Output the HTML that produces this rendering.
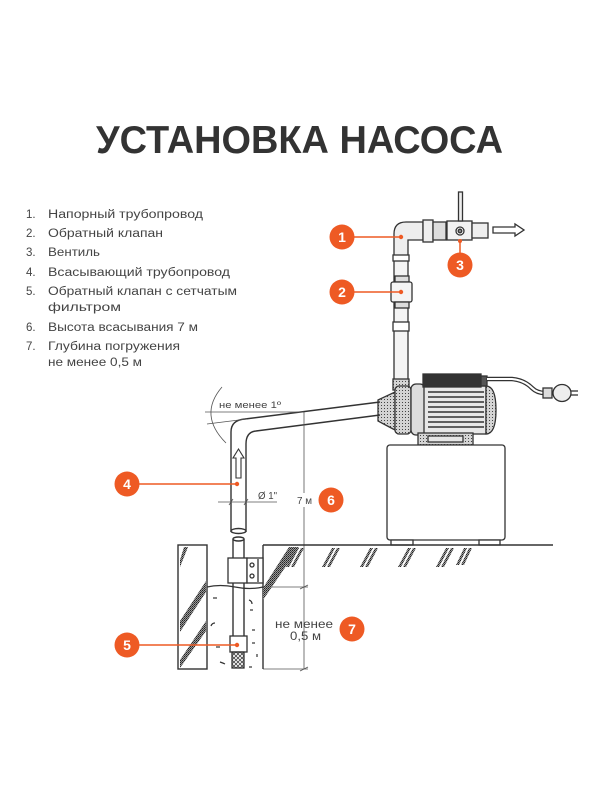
<!DOCTYPE html>
<html><head><meta charset="utf-8"><style>
html,body{margin:0;padding:0;background:#fff;}
svg{display:block;}
</style></head><body>
<svg width="600" height="800" viewBox="0 0 600 800" xmlns="http://www.w3.org/2000/svg">
<defs>
<pattern id="dots" width="2" height="2" patternUnits="userSpaceOnUse">
<rect width="2" height="2" fill="#999"/>
<rect width="1" height="1" fill="#222"/>
<rect x="1" y="1" width="1" height="1" fill="#444"/>
</pattern>
<pattern id="dots2" width="3" height="3" patternUnits="userSpaceOnUse">
<rect width="3" height="3" fill="#d4d4d4"/>
<rect width="1" height="1" fill="#444"/>
</pattern>
<pattern id="xh" width="4" height="4" patternUnits="userSpaceOnUse">
<path d="M0,0 L4,4 M4,0 L0,4" stroke="#444" stroke-width="0.8"/>
</pattern>
</defs>
<rect width="600" height="800" fill="#fff"/>

<text x="96" y="153" font-family="Liberation Sans, sans-serif" font-weight="bold" font-size="39" fill="#333" textLength="407" lengthAdjust="spacingAndGlyphs">УСТАНОВКА НАСОСА</text>

<g font-family="Liberation Sans, sans-serif" font-size="11.5" fill="#444">
<text x="26" y="218">1.</text><text x="48" y="218" textLength="155" lengthAdjust="spacingAndGlyphs">Напорный трубопровод</text>
<text x="26" y="237">2.</text><text x="48" y="237" textLength="115" lengthAdjust="spacingAndGlyphs">Обратный клапан</text>
<text x="26" y="256">3.</text><text x="48" y="256" textLength="52" lengthAdjust="spacingAndGlyphs">Вентиль</text>
<text x="26" y="276">4.</text><text x="48" y="276" textLength="182" lengthAdjust="spacingAndGlyphs">Всасывающий трубопровод</text>
<text x="26" y="295">5.</text><text x="48" y="295" textLength="189" lengthAdjust="spacingAndGlyphs">Обратный клапан с сетчатым</text>
<text x="48" y="311" textLength="73" lengthAdjust="spacingAndGlyphs">фильтром</text>
<text x="26" y="331">6.</text><text x="48" y="331" textLength="150" lengthAdjust="spacingAndGlyphs">Высота всасывания 7 м</text>
<text x="26" y="350">7.</text><text x="48" y="350" textLength="132" lengthAdjust="spacingAndGlyphs">Глубина погружения</text>
<text x="48" y="366" textLength="94" lengthAdjust="spacingAndGlyphs">не менее 0,5 м</text>
</g>

<g stroke="#333" stroke-width="1.3" fill="none">
<rect x="394" y="256" width="14" height="124" fill="#f4f4f4"/>
<path d="M394,256 V234 Q394,222 406,222 H423 V240 H408 V256 Z" fill="#eee"/>
<rect x="393" y="255" width="16" height="6" fill="#fff"/>
<rect x="423" y="220" width="10" height="22" fill="#eee"/>
<rect x="433" y="222" width="13" height="18" fill="#ddd"/>
<rect x="447" y="221" width="25" height="19" fill="#f2f2f2"/>
<rect x="458.5" y="192" width="4" height="29" fill="#eee"/>
<circle cx="460" cy="231" r="4" fill="#fff"/>
<circle cx="460" cy="231" r="1.8" fill="#888"/>
<rect x="472" y="223" width="16" height="15" fill="#eee"/>
<path d="M493,227 H515 V224 L524,230 L515,236 V233 H493 Z" fill="#fff"/>
<rect x="395" y="276" width="14" height="6" fill="#ddd"/>
<rect x="391" y="282" width="21" height="20" rx="2" fill="#f4f4f4"/>
<rect x="395" y="302" width="14" height="6" fill="#ddd"/>
<rect x="393" y="322" width="16" height="9" fill="#fff"/>
<rect x="393" y="379" width="16" height="11" fill="url(#dots2)"/>

<path d="M378,400 L395,392 L395,430 L378,421 Z" fill="url(#dots2)"/>
<rect x="395" y="386" width="16" height="48" rx="4" fill="url(#dots2)"/>
<rect x="411" y="384" width="14" height="51" rx="5" fill="#ddd"/>
<rect x="424" y="386" width="62" height="48" fill="#e8e8e8"/>
<path d="M486,386 Q496,386 496,410 Q496,434 486,434 Z" fill="url(#dots2)"/>
<g stroke-width="1.6">
<line x1="428" y1="392" x2="484" y2="392"/><line x1="428" y1="397" x2="484" y2="397"/>
<line x1="428" y1="402" x2="484" y2="402"/><line x1="428" y1="407" x2="484" y2="407"/>
<line x1="428" y1="412" x2="484" y2="412"/><line x1="428" y1="417" x2="484" y2="417"/>
<line x1="428" y1="422" x2="484" y2="422"/><line x1="428" y1="427" x2="484" y2="427"/>
</g>
<rect x="423" y="374" width="58" height="13" fill="#333"/>
<rect x="481" y="376" width="6" height="10" fill="#555"/>
<rect x="418" y="433" width="55" height="12" fill="url(#dots2)"/>
<rect x="428" y="436" width="35" height="6" fill="#e6e6e6"/>
</g>
<path d="M487,379 H512 Q524,380 532,388 Q537,393 545,393" stroke="#333" stroke-width="4.5" fill="none"/>
<path d="M487,379 H512 Q524,380 532,388 Q537,393 545,393" stroke="#fff" stroke-width="2" fill="none"/>
<g stroke="#333" stroke-width="1.3">
<rect x="543" y="388" width="9" height="10" fill="#ddd"/>
<ellipse cx="562" cy="393" rx="9" ry="8.5" fill="#eee"/>
<line x1="571" y1="391" x2="578" y2="391"/><line x1="571" y1="395" x2="578" y2="395"/>
</g>

<g stroke="#333" stroke-width="1.3" fill="#fff">
<rect x="387" y="445" width="118" height="95" rx="3"/>
<rect x="391" y="540" width="22" height="5"/>
<rect x="479" y="540" width="21" height="5"/>
</g>

<g stroke="#333" stroke-width="1.4" fill="none">
<path d="M231,532 V432 Q231,420 245,419 L380,402"/>
<path d="M246,532 V444 Q246,432 256,431 L380,415"/>
<ellipse cx="238.5" cy="531" rx="7.5" ry="2.5" fill="#fff"/>
<line x1="233" y1="539" x2="233" y2="636"/>
<line x1="244" y1="539" x2="244" y2="636"/>
<ellipse cx="238.5" cy="539" rx="5.5" ry="2" fill="#fff"/>
<path d="M236,478 V458 H233 L238.5,449 L244,458 H241 V478 Z" fill="#fff" stroke-width="1.1"/>
</g>

<g stroke="#555" stroke-width="0.8" fill="none">
<line x1="218" y1="502" x2="277" y2="502"/>
<line x1="229" y1="505" x2="233" y2="499"/><line x1="244" y1="505" x2="248" y2="499"/>
<line x1="205" y1="412" x2="304" y2="412"/>
<line x1="207" y1="424" x2="247" y2="419"/>
<path d="M222,387 Q198,415 226,443"/>
<line x1="304" y1="412" x2="304" y2="669"/>
<line x1="263" y1="587" x2="308" y2="587"/>
<line x1="263" y1="669" x2="308" y2="669"/>
<line x1="300" y1="589" x2="308" y2="585"/>
<line x1="300" y1="671" x2="308" y2="667"/>
</g>
<rect x="294" y="493" width="20" height="14" fill="#fff"/>
<g font-family="Liberation Sans, sans-serif" fill="#444">
<text x="258" y="499" font-size="10" textLength="19" lengthAdjust="spacingAndGlyphs">Ø 1"</text>
<text x="219" y="408" font-size="9.5" textLength="62" lengthAdjust="spacingAndGlyphs">не менее 1º</text>
<text x="297" y="504" font-size="10.5" textLength="15" lengthAdjust="spacingAndGlyphs">7 м</text>
<text x="275" y="628" font-size="12" textLength="58" lengthAdjust="spacingAndGlyphs">не менее</text>
<text x="290" y="640" font-size="12" textLength="31" lengthAdjust="spacingAndGlyphs">0,5 м</text>
</g>

<g stroke="#333" stroke-width="1.4" fill="none">
<line x1="263" y1="545" x2="553" y2="545"/>
<line x1="263" y1="545" x2="263" y2="669"/>
<rect x="178" y="545" width="29" height="124" fill="#fff"/>
<path d="M207,587 Q220,584 235,587 T263,587" stroke-width="1.2"/>
</g>
<g fill="url(#dots)">
<polygon points="180,560 180,567 188,547 184,547"/>
<polygon points="180,621 180,632 206,592 206,581"/>
<polygon points="180,660 180,668 206,631 206,621"/>
<polygon points="263,600 263,588 289,547 299,547"/>
<polygon points="286,567 289,567 299,548 296,548"/>
<polygon points="291,567 294,567 304,548 301,548"/>
<polygon points="322,567 325,567 335,548 332,548"/>
<polygon points="327,567 330,567 340,548 337,548"/>
<polygon points="360,567 363,567 373,548 370,548"/>
<polygon points="365,567 368,567 378,548 375,548"/>
<polygon points="398,567 401,567 411,548 408,548"/>
<polygon points="403,567 406,567 416,548 413,548"/>
<polygon points="436,567 439,567 449,548 446,548"/>
<polygon points="441,567 444,567 454,548 451,548"/>
<polygon points="456,565 459,565 467,548 464,548"/>
<polygon points="461,565 464,565 472,548 469,548"/>
</g>
<g stroke="#333" stroke-width="1.2" fill="none">
<path d="M213,598 h4"/><path d="M249,600 q3,1 3,4"/><path d="M211,626 q1,-3 4,-3"/>
<path d="M250,610 h3"/><path d="M252,630 h3"/><path d="M216,647 h4"/>
<path d="M252,643 h3"/><path d="M220,662 q3,1 5,2"/><path d="M257,654 v3"/>
<path d="M249,667 h3"/>
</g>
<g stroke="#333" stroke-width="1.3" fill="#fff">
<rect x="228" y="558" width="19" height="25"/>
<rect x="247" y="558" width="16" height="25"/>
<line x1="258" y1="559" x2="258" y2="582"/>
<circle cx="252" cy="565" r="2"/><circle cx="252" cy="576" r="2"/>
<rect x="230" y="636" width="17" height="16"/>
<rect x="232" y="652" width="12" height="16" fill="url(#xh)"/>
</g>

<g stroke="#EE5A24" stroke-width="1.5">
<line x1="354" y1="237" x2="401" y2="237"/>
<line x1="354" y1="292" x2="401" y2="292"/>
<line x1="460" y1="240" x2="460" y2="253"/>
<line x1="139" y1="484" x2="237" y2="484"/>
<line x1="139" y1="645" x2="237" y2="645"/>
</g>
<g fill="#EE5A24">
<circle cx="401" cy="237" r="2.2"/><circle cx="401" cy="292" r="2.2"/><circle cx="460" cy="241" r="2"/>
<circle cx="237" cy="484" r="2.2"/><circle cx="237" cy="645" r="2.2"/>
<circle cx="342" cy="237" r="12.5"/>
<circle cx="342" cy="292" r="12.5"/>
<circle cx="460" cy="265" r="12.5"/>
<circle cx="127" cy="484" r="12.5"/>
<circle cx="127" cy="645" r="12.5"/>
<circle cx="331" cy="500" r="12.5"/>
<circle cx="352" cy="629" r="12.5"/>
</g>
<g font-family="Liberation Sans, sans-serif" font-weight="bold" font-size="14" fill="#fff" text-anchor="middle">
<text x="342" y="242">1</text>
<text x="342" y="297">2</text>
<text x="460" y="270">3</text>
<text x="127" y="489">4</text>
<text x="127" y="650">5</text>
<text x="331" y="505">6</text>
<text x="352" y="634">7</text>
</g>
</svg>
</body></html>
